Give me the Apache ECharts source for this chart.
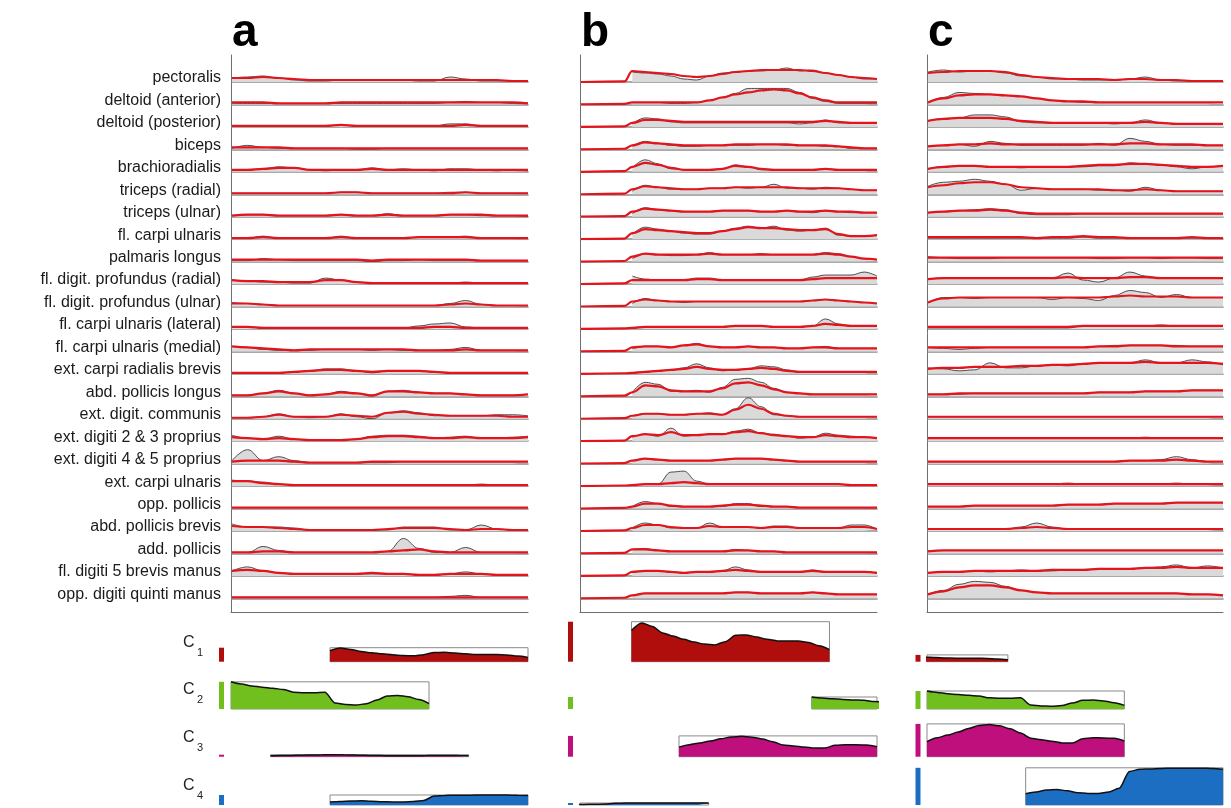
<!DOCTYPE html>
<html>
<head>
<meta charset="utf-8">
<script src="https://cdn.jsdelivr.net/npm/echarts@6/dist/echarts.min.js"></script>
<style>
  html, body { margin: 0; padding: 0; background: #fff; }
  #chart { width: 1231px; height: 808px; }
</style>
</head>
<body>
<div id="chart"></div>
<script>
// muscle names, top to bottom
const muscles = [
  "pectoralis", "deltoid (anterior)", "deltoid (posterior)", "biceps", "brachioradialis",
  "triceps (radial)", "triceps (ulnar)", "fl. carpi ulnaris", "palmaris longus",
  "fl. digit. profundus (radial)", "fl. digit. profundus (ulnar)", "fl. carpi ulnaris (lateral)",
  "fl. carpi ulnaris (medial)", "ext. carpi radialis brevis", "abd. pollicis longus",
  "ext. digit. communis", "ext. digiti 2 & 3 proprius", "ext. digiti 4 & 5 proprius",
  "ext. carpi ulnaris", "opp. pollicis", "abd. pollicis brevis", "add. pollicis",
  "fl. digiti 5 brevis manus", "opp. digiti quinti manus"
]

const panelLetters = ["a", "b", "c"]

// recorded EMG (grey) and reconstruction (red), panel a
const emgA = [
  [4,5,6,4,2,1,1,2,2,2,2,2,1,1,5,3,1,1,1,1],
  [1,1,1,1,1,1,1,1,1,1,1,1,1,1,2,3,2,2,1,1],
  [1,1,1,1,1,1,1,2,1,1,1,1,1,1,3,3,1,1,1,1],
  [1,4,2,1,1,1,1,1,0,0,1,1,1,1,1,1,1,1,1,1],
  [2,2,3,5,4,2,1,2,2,4,2,3,2,1,3,3,2,1,2,1],
  [1,1,1,1,1,1,1,2,2,1,1,1,1,1,2,2,1,1,1,1],
  [1,2,2,1,1,1,1,2,1,1,3,1,1,1,2,2,1,1,1,0],
  [1,1,3,1,1,1,1,3,1,1,1,1,2,2,2,3,1,1,1,1],
  [1,1,3,2,1,1,1,1,1,0,1,1,2,1,1,1,1,1,1,1],
  [4,3,2,2,1,1,6,4,2,1,1,1,1,1,1,2,1,1,1,1],
  [4,3,2,1,1,1,1,1,1,1,1,1,1,1,3,6,2,1,1,1],
  [2,2,1,1,1,1,1,1,1,1,1,1,3,5,6,2,1,1,1,1],
  [5,4,2,1,1,1,2,2,2,1,2,1,1,1,2,4,1,1,1,1],
  [1,1,1,1,2,3,5,5,3,1,3,3,3,2,1,1,1,1,1,1],
  [1,1,3,6,3,1,2,5,3,0,5,6,4,3,3,2,1,1,1,2],
  [1,1,2,5,2,1,2,5,2,0,6,8,6,3,3,3,3,4,4,3],
  [6,3,2,5,2,1,1,1,2,5,6,6,5,3,4,5,3,3,4,5],
  [3,14,3,7,3,1,1,1,1,1,1,2,2,2,2,2,2,2,2,2],
  [6,5,4,2,1,1,1,1,1,1,1,1,1,1,1,1,2,1,1,1],
  [1,1,1,1,1,1,1,1,1,1,1,1,1,1,1,1,1,1,1,1],
  [7,4,4,4,3,1,1,1,1,1,1,4,4,4,1,1,6,2,1,1],
  [1,1,7,3,1,1,1,1,1,1,2,15,5,1,1,6,1,1,1,1],
  [5,9,5,3,2,2,2,2,2,2,2,2,1,1,2,4,2,1,1,1],
  [1,1,1,1,1,1,1,1,1,1,1,1,1,1,2,3,1,1,1,1]
]
const fitA = [
  [4,4,5,4,3,2,2,2,2,2,2,2,2,2,2,2,2,2,1,1],
  [2,2,2,1,1,1,1,2,2,2,2,2,2,2,2,2,2,2,2,1],
  [1,1,1,1,1,1,1,2,1,1,1,1,1,1,1,2,1,1,1,1],
  [2,2,2,2,1,1,1,1,1,1,1,1,1,1,1,1,1,1,1,1],
  [2,2,3,4,4,2,2,2,2,3,2,2,2,2,2,2,2,2,2,2],
  [1,1,1,1,1,1,1,2,2,1,1,1,1,1,1,2,1,1,1,1],
  [1,2,2,1,1,1,1,2,1,1,2,1,1,1,2,2,2,1,1,1],
  [1,1,2,1,1,1,1,2,1,1,1,1,2,2,2,2,1,1,1,1],
  [2,2,2,2,2,2,2,2,2,1,2,2,2,2,2,2,1,1,1,1],
  [4,3,3,2,2,2,4,4,2,1,1,1,1,1,1,1,1,1,1,1],
  [3,3,2,1,1,1,1,1,1,1,1,1,1,1,2,3,2,1,1,1],
  [2,2,1,1,1,1,1,1,1,1,1,1,1,2,2,1,1,1,1,1],
  [5,4,3,2,1,2,2,2,2,2,2,2,1,1,1,2,1,1,1,1],
  [1,1,1,1,2,3,4,4,3,2,3,3,3,2,1,1,1,1,1,1],
  [1,1,3,5,3,1,2,4,3,1,5,5,4,3,3,2,1,1,1,2],
  [1,1,2,4,2,2,2,4,3,2,6,7,5,4,3,3,3,3,2,2],
  [4,3,2,3,2,1,1,1,2,4,5,5,4,3,3,4,3,3,3,4],
  [2,3,3,3,2,1,1,1,1,2,2,2,2,2,2,2,2,2,2,2],
  [5,5,3,2,1,1,1,1,1,1,1,1,1,1,1,1,1,1,1,1],
  [1,1,1,1,1,1,1,1,1,1,1,1,1,1,1,1,1,1,1,1],
  [5,4,4,3,2,1,1,1,1,1,2,3,3,3,2,1,2,2,1,1],
  [1,1,2,2,1,1,1,1,1,1,2,3,4,2,1,1,1,1,1,1],
  [5,6,5,3,2,2,2,2,2,3,2,2,1,1,2,2,2,1,1,1],
  [1,1,1,1,1,1,1,1,1,1,1,1,1,1,1,1,1,1,1,1]
]

// panel b (traces start at movement onset)
const emgB = [
  [10,9,8,6,3,2,6,9,10,11,11,12,14,11,12,9,7,5,3,3],
  [2,2,2,1,1,2,4,7,11,16,16,16,16,12,6,3,1,1,1,1],
  [3,9,8,5,4,4,4,4,4,4,4,4,4,3,4,7,4,4,4,4],
  [3,8,6,4,3,3,4,4,4,4,5,5,4,4,4,3,3,1,1,1],
  [4,12,8,3,2,2,2,3,7,5,2,2,2,2,2,3,2,2,2,2],
  [3,9,7,5,5,5,6,6,7,6,7,10,6,6,5,7,6,5,4,4],
  [3,9,7,6,5,5,5,6,6,6,5,5,6,5,4,6,5,4,4,4],
  [5,12,10,8,6,5,5,8,11,13,11,13,9,8,9,11,4,3,3,4],
  [3,8,7,6,6,7,9,7,7,7,8,7,7,7,7,9,8,5,3,2],
  [8,5,4,4,4,6,6,4,4,4,4,4,4,4,7,9,9,9,12,8],
  [3,8,6,5,4,5,5,5,5,5,5,5,5,5,6,7,6,5,4,3],
  [1,2,2,2,2,2,2,2,3,3,3,2,2,2,3,10,5,3,3,3],
  [3,5,5,4,6,8,5,4,4,5,4,4,3,3,4,5,3,3,3,3],
  [1,2,3,4,6,10,6,3,4,5,8,7,4,2,2,2,2,2,2,2],
  [4,14,12,5,5,6,4,9,17,18,14,8,4,3,2,2,2,2,2,2],
  [3,5,5,4,4,5,6,4,10,21,12,4,3,2,2,2,2,2,2,2],
  [4,7,5,13,5,6,7,7,10,12,8,7,5,3,4,8,6,5,4,3],
  [3,5,4,3,3,3,3,4,5,5,5,4,3,2,2,2,2,2,2,2],
  [1,2,2,14,15,5,2,2,2,2,2,2,2,2,2,2,2,1,1,1],
  [2,7,5,2,2,2,2,2,5,5,2,2,2,1,1,1,1,1,1,1],
  [3,8,6,3,3,3,8,4,4,4,3,5,5,3,3,3,3,6,6,2],
  [4,5,3,2,2,2,2,2,4,3,2,2,1,1,1,1,1,1,1,1],
  [4,5,5,4,3,4,4,5,9,6,4,4,4,4,6,4,4,4,4,3],
  [3,5,5,5,5,5,5,5,6,6,5,5,5,5,6,5,4,4,4,4]
]
const fitB = [
  [11,10,9,8,6,5,6,8,10,11,12,12,12,12,11,9,7,5,4,3],
  [2,2,2,2,2,2,4,7,10,12,14,15,14,11,7,4,2,2,2,2],
  [4,7,7,6,5,5,5,5,5,5,5,5,5,5,5,6,5,4,4,4],
  [4,7,6,5,4,4,4,4,5,5,5,5,5,4,4,4,3,2,1,1],
  [5,9,7,4,2,2,2,3,6,5,3,2,2,2,2,3,2,2,2,2],
  [5,8,7,6,5,5,6,6,7,7,7,7,7,6,6,6,6,5,4,4],
  [5,8,7,6,5,5,5,6,6,6,5,5,6,5,5,6,5,5,4,4],
  [6,10,9,8,7,6,6,8,10,12,11,11,10,9,9,10,5,3,3,4],
  [5,8,7,7,7,7,8,7,7,7,7,7,7,7,7,8,7,5,3,2],
  [4,4,4,4,4,5,5,4,4,4,4,4,4,4,5,6,6,6,6,6],
  [5,7,6,5,5,5,5,5,5,5,5,5,5,5,6,7,6,5,4,3],
  [1,2,2,2,2,2,2,2,3,3,3,2,2,2,3,5,4,3,3,3],
  [4,5,5,4,6,7,5,4,4,5,4,4,3,3,4,4,3,3,3,3],
  [1,2,3,4,5,7,5,4,4,5,6,5,3,2,2,2,2,2,2,2],
  [4,11,10,6,5,5,5,8,13,14,11,7,4,3,2,2,2,2,2,2],
  [3,5,5,4,4,5,5,4,9,14,10,5,3,2,2,2,2,2,2,2],
  [5,7,6,9,6,6,7,7,9,10,8,6,5,4,4,6,5,4,4,3],
  [3,5,4,3,3,3,3,4,5,5,5,4,3,2,2,2,2,2,2,2],
  [1,2,2,3,4,3,2,2,2,2,2,2,2,2,2,2,2,1,1,1],
  [2,5,5,3,2,2,2,3,4,4,3,2,2,1,1,1,1,1,1,1],
  [3,6,6,4,3,3,5,4,4,4,3,4,4,3,3,3,3,4,4,2],
  [4,4,3,2,2,2,2,2,3,3,2,2,1,1,1,1,1,1,1,1],
  [4,5,5,4,3,4,4,5,6,5,4,4,4,4,5,4,4,4,4,3],
  [3,5,5,5,5,5,5,5,6,6,5,5,5,5,6,5,4,4,4,4]
]
// red trace before onset in panel b: values at sample 0 and just before onset
const fitLeadB = [0, 0.6]

// panel c
const emgC = [
  [10,12,10,11,11,9,6,5,3,3,2,2,2,3,5,2,1,1,1,1],
  [2,7,12,11,10,9,8,6,4,3,2,2,2,2,2,2,2,2,2,2],
  [6,8,9,12,12,10,5,4,4,4,4,4,3,4,7,4,3,3,3,3],
  [3,4,5,3,8,6,4,4,4,4,4,6,4,11,8,5,4,4,4,4],
  [3,5,6,6,5,5,4,5,5,5,5,6,6,9,8,7,5,3,5,6],
  [8,12,13,15,13,10,4,6,5,5,5,4,4,3,7,4,3,3,3,3],
  [4,5,6,7,8,7,3,2,2,2,3,3,3,3,3,3,3,3,3,3],
  [1,1,1,1,1,1,1,1,1,1,2,1,1,1,1,1,1,1,1,1],
  [5,4,3,3,3,4,4,4,4,4,4,3,3,4,4,3,4,4,3,3],
  [5,6,6,6,6,6,6,6,6,11,4,2,6,12,8,6,6,6,6,6],
  [4,9,9,8,9,9,9,9,7,9,8,6,11,16,14,9,12,9,9,9],
  [1,1,1,1,1,1,1,1,1,1,3,3,3,3,3,4,3,3,3,3],
  [4,3,2,3,4,4,4,4,4,4,4,5,6,6,6,6,6,5,5,5],
  [6,5,3,4,11,6,6,8,9,8,10,11,11,11,14,11,11,14,12,9],
  [2,2,2,3,3,3,3,3,3,3,3,4,4,4,5,5,5,6,6,6],
  [2,2,2,2,2,2,2,2,2,2,2,2,2,2,2,2,2,2,2,2],
  [3,3,3,3,3,3,3,3,3,3,3,3,3,3,4,3,3,3,3,3],
  [2,2,2,2,2,2,2,2,2,2,2,2,2,3,3,4,7,4,2,2],
  [2,2,2,2,2,2,2,2,2,3,2,2,2,2,2,2,3,2,2,2],
  [2,2,2,3,3,3,3,3,3,4,4,4,5,5,5,5,6,6,6,6],
  [2,2,2,2,2,2,4,8,4,2,2,2,2,2,2,2,2,2,2,2],
  [2,3,3,3,3,3,3,3,3,3,3,3,3,3,3,3,3,3,3,3],
  [3,4,4,5,4,5,6,5,5,6,6,7,7,7,8,9,11,8,10,8],
  [4,8,14,17,16,12,8,6,5,5,5,5,5,5,5,5,5,4,4,3]
]
const fitC = [
  [9,10,11,11,11,10,7,5,4,3,3,3,2,3,3,2,2,1,1,1],
  [2,6,9,10,10,9,8,6,4,3,3,2,2,2,2,2,2,2,2,2],
  [6,8,9,9,9,8,6,5,4,4,4,4,4,4,5,4,3,3,3,3],
  [3,4,5,5,6,5,5,5,5,5,5,5,5,6,6,5,5,5,4,4],
  [3,5,6,6,5,5,5,5,5,5,6,7,7,8,8,7,6,5,5,6],
  [7,9,11,12,12,10,7,6,5,5,5,5,4,4,5,4,3,3,3,3],
  [4,5,6,6,7,6,4,3,3,3,3,3,3,3,3,3,3,3,3,3],
  [2,2,2,2,2,2,2,1,2,2,3,2,2,1,1,1,1,2,1,1],
  [4,4,4,4,4,4,4,4,4,4,4,4,4,4,4,4,4,4,4,4],
  [5,6,6,6,6,6,6,6,6,7,6,6,6,7,7,6,6,6,6,6],
  [4,8,9,9,9,9,9,9,9,9,9,9,10,11,10,10,10,9,9,9],
  [2,2,2,2,2,2,2,2,2,2,3,3,3,3,3,3,3,3,3,3],
  [4,4,4,4,4,4,4,4,4,4,4,5,5,6,6,6,5,5,5,5],
  [5,6,6,7,7,7,8,8,9,9,10,11,11,11,12,11,11,11,11,10],
  [2,2,3,3,3,3,3,3,3,3,3,4,4,4,5,5,5,6,6,6],
  [2,2,2,2,2,2,2,2,2,2,2,2,2,2,2,2,2,2,2,2],
  [3,3,3,3,3,3,3,3,3,3,3,3,3,3,3,3,3,3,3,3],
  [2,2,2,2,2,2,2,2,2,2,2,2,2,3,3,3,4,3,2,2],
  [2,2,2,2,2,2,2,2,2,2,2,2,2,2,2,2,2,2,2,2],
  [2,2,2,3,3,3,3,3,3,4,4,4,5,5,5,5,6,6,6,6],
  [2,2,2,2,2,2,3,4,3,2,2,2,2,2,2,2,2,2,2,2],
  [2,3,3,3,3,3,3,3,3,3,3,3,3,3,3,3,3,3,3,3],
  [3,4,4,5,5,5,5,5,6,6,6,7,7,7,8,8,9,8,8,8],
  [4,7,11,13,13,11,8,6,5,5,5,5,5,5,5,5,5,4,4,3]
]

// movement onset (samples) for the EMG traces of each panel
const emgOnsets = [0, 26, 0]

// time-varying synergies C1..C4 (normalised waveforms)
const synergyLabels = ["1", "2", "3", "4"]
const synC1 = [0.78,0.97,0.88,0.72,0.64,0.56,0.49,0.44,0.42,0.5,0.66,0.67,0.62,0.56,0.52,0.52,0.52,0.48,0.4,0.3]
const synC2 = [1.0,0.92,0.85,0.8,0.76,0.72,0.62,0.6,0.6,0.62,0.22,0.17,0.15,0.19,0.33,0.48,0.5,0.45,0.35,0.2]
const synC3 = [0.46,0.58,0.66,0.75,0.86,0.95,0.98,0.94,0.85,0.72,0.56,0.52,0.47,0.42,0.42,0.55,0.58,0.57,0.56,0.48]
const synC4 = [0.3,0.35,0.4,0.42,0.38,0.33,0.31,0.31,0.35,0.45,0.9,0.96,0.97,0.98,0.99,0.99,0.99,0.99,0.98,0.96]

// amplitude and onset (samples) of each synergy, per panel
const weightsA = [0.35, 0.68, 0.05, 0.25]
const weightsB = [1.0, 0.3, 0.52, 0.05]
const weightsC = [0.17, 0.45, 0.82, 0.93]
const onsetsA = [50, 0, 20, 50]
const onsetsB = [26, 117, 50, -35]
const onsetsC = [-59, 0, 0, 50]

const FONT = '"Liberation Sans", Arial, Helvetica, sans-serif'
const SAMPLES = 150        // panel time span
const SYN_LEN = 100        // synergy duration
const ROW0 = 82, ROW_STEP = 22.45, ROW_H = 24
const SYN_BASE = [661.7, 709, 756.7, 805], SYN_H = 40
const synColors = ["#b00d0d", "#70bf1f", "#bf0f7c", "#1c6ec3"]
const synergies = [synC1, synC2, synC3, synC4]

const panels = [
  { x: 231, w: 297, emg: emgA, fit: fitA, weights: weightsA, onsets: onsetsA, barX: 221.5 },
  { x: 580, w: 297, emg: emgB, fit: fitB, weights: weightsB, onsets: onsetsB, barX: 570.5, lead: fitLeadB },
  { x: 927, w: 296, emg: emgC, fit: fitC, weights: weightsC, onsets: onsetsC, barX: 918 }
]

const grid = [], xAxis = [], yAxis = [], series = [], graphic = []
const hidden = { show: false }

function addGrid(box, xa, ya) {
  grid.push(box)
  const gridIndex = grid.length - 1
  xAxis.push(Object.assign({ gridIndex }, xa))
  yAxis.push(Object.assign({ gridIndex }, ya))
  return gridIndex
}

function textEl(x, y, text, font, align, color) {
  return {
    type: "text", x, y, silent: true,
    style: { text, font, fill: color || "#1a1a1a", align, verticalAlign: "middle", textAlign: align, textVerticalAlign: "middle" }
  }
}

panels.forEach((p, pi) => {
  // panel frame (left and bottom axis lines)
  addGrid(
    { left: p.x, top: 55, width: p.w, height: 557.5 },
    { type: "value", min: 0, max: SAMPLES, axisLine: { show: true, lineStyle: { color: "#6e6e6e", width: 1 } }, axisTick: hidden, axisLabel: hidden, splitLine: hidden },
    { type: "value", min: 0, max: 1, axisLine: { show: true, lineStyle: { color: "#6e6e6e", width: 1 } }, axisTick: hidden, axisLabel: hidden, splitLine: hidden }
  )

  const start = emgOnsets[pi]
  p.emg.forEach((trace, r) => {
    const base = ROW0 + r * ROW_STEP
    const gi = addGrid(
      { left: p.x + 1, top: base - ROW_H, width: p.w - 1, height: ROW_H },
      { type: "value", min: 0, max: SAMPLES, axisLine: { show: true, onZero: false, lineStyle: { color: "#8e8e8e", width: 1.6 } }, axisTick: hidden, axisLabel: hidden, splitLine: hidden },
      { type: "value", min: 0, max: ROW_H, show: false }
    )
    const step = (SAMPLES - start) / (trace.length - 1)
    series.push({
      type: "line", xAxisIndex: gi, yAxisIndex: gi, silent: true, animation: false,
      symbol: "none", smooth: 0.4, smoothMonotone: "x", z: 2,
      lineStyle: { color: "#4d4d4d", width: 1 },
      areaStyle: { color: "#dadada", opacity: 1 },
      data: trace.map((v, i) => [start + i * step, v])
    })
    let red = p.fit[r].map((v, i) => [start + i * step, v])
    if (p.lead) red = [[0, p.lead[0]], [start - 4, p.lead[1]]].concat(red)
    series.push({
      type: "line", xAxisIndex: gi, yAxisIndex: gi, silent: true, animation: false,
      symbol: "none", smooth: 0.4, smoothMonotone: "x", z: 3,
      lineStyle: { color: "#e3141c", width: 2.2 },
      data: red
    })
  })

  // synergy rows
  synergies.forEach((wave, k) => {
    const base = SYN_BASE[k]
    const w = p.weights[k]
    const on = p.onsets[k]
    const gi = addGrid(
      { left: p.x, top: base - SYN_H, width: p.w, height: SYN_H },
      { type: "value", min: 0, max: SAMPLES, show: false },
      { type: "value", min: 0, max: 1, show: false }
    )
    series.push({
      type: "line", xAxisIndex: gi, yAxisIndex: gi, silent: true, animation: false,
      symbol: "none", smooth: 0.3, smoothMonotone: "x", clip: true,
      lineStyle: { color: "#111", width: 1.5 },
      areaStyle: { color: synColors[k], opacity: 1 },
      data: wave.map((v, i) => [on + i * SYN_LEN / (wave.length - 1), v * w]),
      markArea: {
        silent: true,
        itemStyle: { color: "rgba(0,0,0,0)", borderColor: "#8a8a8a", borderWidth: 1 },
        data: [[{ coord: [Math.max(on, 0), 0] }, { coord: [Math.min(on + SYN_LEN, SAMPLES), w] }]]
      }
    })
    // amplitude bar at the left
    const bi = addGrid(
      { left: p.barX - 2.5, top: base - SYN_H, width: 5, height: SYN_H },
      { type: "category", data: [""], show: false },
      { type: "value", min: 0, max: 1, show: false }
    )
    series.push({
      type: "bar", xAxisIndex: bi, yAxisIndex: bi, silent: true, animation: false,
      barWidth: 5, itemStyle: { color: synColors[k] }, data: [w]
    })
  })

  graphic.push(textEl(p.x + 1, 33, panelLetters[pi], "bold 46px " + FONT, "left", "#000"))
})

muscles.forEach((name, r) => {
  graphic.push(textEl(221, ROW0 + r * ROW_STEP - 4, name, "16px " + FONT, "right"))
})

synergyLabels.forEach((s, k) => {
  graphic.push(textEl(183, SYN_BASE[k] - 19, "C", "16px " + FONT, "left", "#222"))
  graphic.push(textEl(197, SYN_BASE[k] - 9, s, "11px " + FONT, "left", "#222"))
})

const chart = echarts.init(document.getElementById("chart"), null, { renderer: "canvas" })
chart.setOption({
  animation: false,
  backgroundColor: "#ffffff",
  grid, xAxis, yAxis, series, graphic
})
</script>
</body>
</html>
